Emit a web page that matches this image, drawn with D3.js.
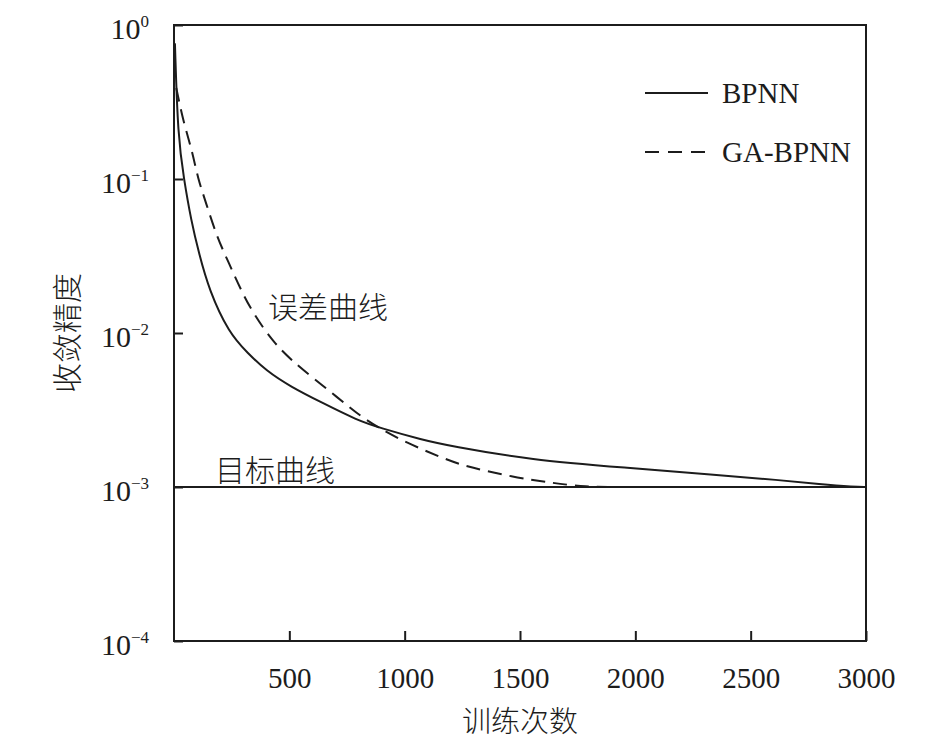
<!DOCTYPE html>
<html>
<head>
<meta charset="utf-8">
<script src="https://cdn.jsdelivr.net/npm/d3@7"></script>
<style>
  body { margin: 0; background: #fff; }
  svg { display: block; }
  .serif { font-family: "Liberation Serif", "DejaVu Serif", serif; }
  .cjk { font-family: "Noto Sans CJK SC", "Noto Sans", sans-serif; font-weight: 300; }
</style>
</head>
<body>
<svg id="chart" width="946" height="742"></svg>
<script>
'use strict';

// iterations / error
var bpnnIter  = [4, 17, 43, 74, 108, 152, 238, 320, 399, 503, 646, 793, 893, 1079, 1196, 1543, 1977, 2337, 2627, 2800, 2950, 3000];
var bpnnErr   = [0.76, 0.187, 0.1, 0.054, 0.033, 0.019, 0.01, 0.0074, 0.0057, 0.0045, 0.0035, 0.00272, 0.00242, 0.00202, 0.00185, 0.0015, 0.00133, 0.0012, 0.00111, 0.00104, 0.001, 0.001];

var gaIter = [10, 39, 78, 104, 139, 186, 238, 290, 347, 434, 512, 603, 707, 793, 880, 1010, 1153, 1253, 1470, 1643, 1790, 1900];
var gaErr  = [0.39, 0.24, 0.154, 0.1, 0.07, 0.042, 0.0285, 0.019, 0.0131, 0.0086, 0.0066, 0.0051, 0.00384, 0.003, 0.00245, 0.00193, 0.00157, 0.00137, 0.00116, 0.00106, 0.001, 0.001];

var targetErr = 0.001;

var xTicks = [500, 1000, 1500, 2000, 2500, 3000];
var yTicks = [1, 0.1, 0.01, 0.001, 0.0001];
var yExps  = ["0", "\u22121", "\u22122", "\u22123", "\u22124"];

var seriesNames = ["BPNN", "GA-BPNN"];

function zip(xs, ys) {
	return xs.map(function (x, i) { return {x: x, y: ys[i]}; });
}

function drawChart() {
	var svg = d3.select("#chart"),
	margin = {top: 25, right: 80, bottom: 101, left: 174},
	width = +svg.attr("width") - margin.left - margin.right,
	height = +svg.attr("height") - margin.top - margin.bottom,
	g = svg.append("g").attr("transform", "translate(" + margin.left + "," + margin.top + ")");

	var ink = "#1c1c1c";

	var x = d3.scaleLinear().domain([0, 3000]).range([0, width]);
	var y = d3.scaleLog().domain([0.0001, 1]).range([height, 0]);

	// bottom axis, ticks pointing in
	var xAxis = g.append("g")
		.attr("transform", "translate(0," + height + ")")
		.call(d3.axisBottom(x).tickValues(xTicks).tickFormat(d3.format("d"))
			.tickSize(-10).tickPadding(26).tickSizeOuter(0));
	xAxis.select(".domain").remove();
	xAxis.selectAll(".tick line").attr("stroke", ink).attr("stroke-width", 2);
	xAxis.selectAll(".tick text")
		.attr("class", "serif")
		.attr("fill", ink)
		.style("font-size", "29px");

	// left axis with 10^n labels
	var yAxis = g.append("g")
		.call(d3.axisLeft(y).tickValues(yTicks).tickSize(-9).tickPadding(25).tickSizeOuter(0));
	yAxis.select(".domain").remove();
	yAxis.selectAll(".tick line").attr("stroke", ink).attr("stroke-width", 2);
	yAxis.selectAll(".tick text").each(function (d, i) {
		var t = d3.select(this);
		t.text(null)
			.attr("class", "serif")
			.attr("fill", ink)
			.attr("dy", "0.45em")
			.style("font-size", "30px");
		t.append("tspan").text("10");
		t.append("tspan").attr("dy", -12).style("font-size", "17px").text(yExps[i]);
	});

	// frame
	g.append("rect")
		.attr("x", 0).attr("y", 0)
		.attr("width", width).attr("height", height)
		.attr("fill", "none")
		.attr("stroke", ink)
		.attr("stroke-width", 2);

	// target line
	g.append("line")
		.attr("x1", x(0)).attr("x2", x(3000))
		.attr("y1", y(targetErr)).attr("y2", y(targetErr))
		.attr("stroke", ink).attr("stroke-width", 2);

	var line = d3.line()
		.x(function (d) { return x(d.x); })
		.y(function (d) { return y(d.y); })
		.curve(d3.curveBasis);

	g.append("path")
		.datum(zip(bpnnIter, bpnnErr))
		.attr("d", line)
		.attr("fill", "none")
		.attr("stroke", ink)
		.attr("stroke-width", 2);

	g.append("path")
		.datum(zip(gaIter, gaErr))
		.attr("d", line)
		.attr("fill", "none")
		.attr("stroke", ink)
		.attr("stroke-width", 2)
		.attr("stroke-dasharray", "14,8");

	// legend
	var legend = svg.append("g");
	seriesNames.forEach(function (name, i) {
		var ly = 93 + i * 59;
		legend.append("line")
			.attr("x1", 645).attr("x2", 708)
			.attr("y1", ly).attr("y2", ly)
			.attr("stroke", ink).attr("stroke-width", 2)
			.attr("stroke-dasharray", i == 1 ? "14,9" : null);
		legend.append("text")
			.attr("class", "serif")
			.attr("x", 722).attr("y", ly + 10)
			.attr("fill", ink)
			.style("font-size", "29px")
			.text(name);
	});

	// annotations
	svg.append("text")
		.attr("class", "cjk")
		.attr("x", 268).attr("y", 305)
		.attr("dominant-baseline", "central")
		.attr("fill", ink)
		.style("font-size", "30px")
		.text("误差曲线");

	svg.append("text")
		.attr("class", "cjk")
		.attr("x", 215).attr("y", 468)
		.attr("dominant-baseline", "central")
		.attr("fill", ink)
		.style("font-size", "30px")
		.text("目标曲线");

	// axis titles
	svg.append("text")
		.attr("class", "cjk")
		.attr("x", margin.left + width / 2).attr("y", 719)
		.attr("text-anchor", "middle")
		.attr("dominant-baseline", "central")
		.attr("fill", ink)
		.style("font-size", "29px")
		.text("训练次数");

	svg.append("text")
		.attr("class", "cjk")
		.attr("transform", "translate(65," + (margin.top + height / 2) + ") rotate(-90)")
		.attr("text-anchor", "middle")
		.attr("dominant-baseline", "central")
		.attr("fill", ink)
		.style("font-size", "30px")
		.text("收敛精度");
}

drawChart();
</script>
</body>
</html>
